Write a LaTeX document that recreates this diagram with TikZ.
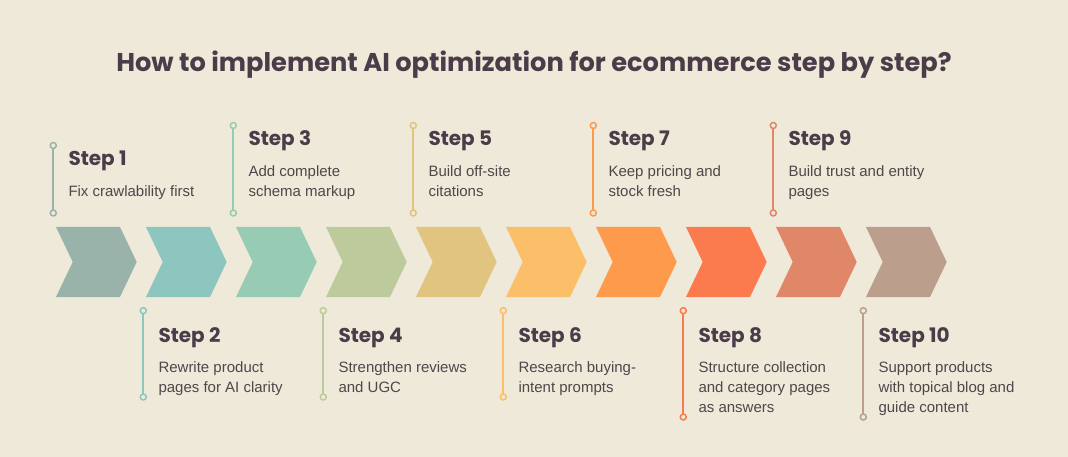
\documentclass[tikz,border=0pt]{standalone}
\usepackage{fontspec}
\setmainfont{Liberation Sans}
\newfontfamily\headfont{Poppins}
\usetikzlibrary{positioning}

\definecolor{bgcream}{HTML}{EFE9D9}
\definecolor{inkdark}{HTML}{4A3C48}
\definecolor{inkgray}{HTML}{50464B}
\definecolor{stepA}{HTML}{9AB3AA}
\definecolor{stepB}{HTML}{8DC6BE}
\definecolor{stepC}{HTML}{98CBB4}
\definecolor{stepD}{HTML}{BDCA9B}
\definecolor{stepE}{HTML}{E1C480}
\definecolor{stepF}{HTML}{FBBF6A}
\definecolor{stepG}{HTML}{FD9A4B}
\definecolor{stepH}{HTML}{FB7B4F}
\definecolor{stepI}{HTML}{E0876A}
\definecolor{stepJ}{HTML}{BB9E8C}

\tikzset{
  headline/.style={font=\headfont\bfseries\fontsize{25.7}{30}\selectfont, text=inkdark},
  stepline/.style={draw=#1, line width=1.9pt},
  stepdot/.style={draw=#1, fill=bgcream, line width=1.5pt},
  steptitle/.style={font=\headfont\bfseries\fontsize{20}{24}\selectfont, text=inkdark,
                    anchor=base west, inner sep=0pt},
  stepdesc/.style={font=\fontsize{15}{20}\selectfont, text=inkgray, anchor=north west,
                   align=left, inner sep=0pt}
}

\begin{document}
\begin{tikzpicture}[x=1pt,y=-1pt]
  \fill[bgcream] (0,0) rectangle (1068,457);
  \useasboundingbox (0,0) rectangle (1068,457);

  \node[headline] (title) at (534,65) {How to implement AI optimization for ecommerce step by step?};

  % chevrons with callouts, odd steps above and even steps below
  \foreach \k/\stepcol/\nlines/\desc in {1/stepA/1/{Fix crawlability first},
                               2/stepB/2/{Rewrite product\\pages for AI clarity},
                               3/stepC/2/{Add complete\\schema markup},
                               4/stepD/2/{Strengthen reviews\\and UGC},
                               5/stepE/2/{Build off-site\\citations},
                               6/stepF/2/{Research buying-\\intent prompts},
                               7/stepG/2/{Keep pricing and\\stock fresh},
                               8/stepH/3/{Structure collection\\and category pages\\as answers},
                               9/stepI/2/{Build trust and entity\\pages},
                               10/stepJ/3/{Support products\\with topical blog and\\guide content}}{
    \pgfmathsetmacro\chx{56+90*(\k-1)}
    \pgfmathsetmacro\linex{\chx-2.7}
    \pgfmathtruncatemacro\isodd{mod(\k,2)}
    \coordinate (c\k) at (\chx,227);
    \fill[\stepcol] (c\k) -- ++(64,0) -- ++(16.7,35) -- ++(-16.7,35)
                -- ++(-64,0) -- ++(16.7,-35) -- cycle;
    \ifnum\isodd=1
      \pgfmathsetmacro\titley{166-20*(\nlines-1)}
      \pgfmathsetmacro\topy{\titley-20.5}
      \pgfmathsetmacro\boty{213}
    \else
      \pgfmathsetmacro\titley{342.5}
      \pgfmathsetmacro\topy{310.7}
      \pgfmathsetmacro\boty{377+20*(\nlines-1)}
    \fi
    \coordinate (a\k) at (\linex,\topy);
    \coordinate (b\k) at (\linex,\boty);
    \draw[stepline=\stepcol] (a\k) -- (b\k);
    \draw[stepdot=\stepcol] (a\k) circle (3);
    \draw[stepdot=\stepcol] (b\k) circle (3);
    \node[steptitle] (t\k) at (\linex+15,\titley) {Step \k};
    \node[stepdesc] (d\k) at (\linex+15,\titley+16) {\strut\desc};
  }
\end{tikzpicture}
\end{document}
